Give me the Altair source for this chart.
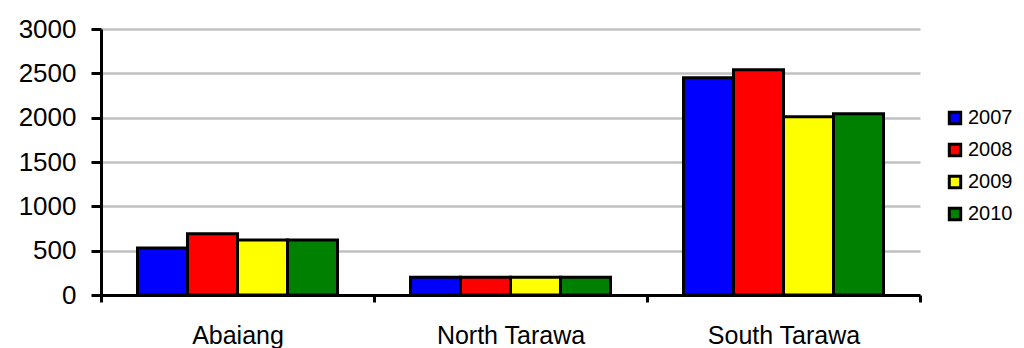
import altair as alt
import pandas as pd

regions = ["Abaiang", "North Tarawa", "South Tarawa"]
years = ["2007", "2008", "2009", "2010"]
v2007 = [530, 200, 2450]
v2008 = [690, 200, 2540]
v2009 = [620, 200, 2010]
v2010 = [620, 200, 2045]
colors = ["#0000FF", "#FF0000", "#FFFF00", "#008000"]
y_ticks = [0, 500, 1000, 1500, 2000, 2500, 3000]

rows = []
for yr, vals in zip(years, [v2007, v2008, v2009, v2010]):
    for r, v in zip(regions, vals):
        rows.append({"region": r, "year": yr, "value": v})
df = pd.DataFrame(rows)

FONT = "Liberation Sans"

chart = alt.Chart(df).mark_bar(stroke="black", strokeWidth=3).encode(
    x=alt.X("region:N", sort=regions,
            scale=alt.Scale(paddingInner=0, paddingOuter=0),
            axis=alt.Axis(title=None, labelAngle=0, tickBand="extent",
                          domainColor="black", domainWidth=3,
                          tickColor="black", tickWidth=3, tickSize=7,
                          labelFontSize=25, labelFont=FONT, labelColor="black",
                          labelPadding=21, grid=False)),
    xOffset=alt.XOffset("year:N", sort=years,
                        scale=alt.Scale(paddingInner=0, paddingOuter=0.73)),
    y=alt.Y("value:Q",
            scale=alt.Scale(domain=[0, 3000], nice=False),
            axis=alt.Axis(title=None, values=y_ticks, format="d", grid=True,
                          gridColor="#c0c0c0", gridWidth=2.5,
                          domainColor="black", domainWidth=3,
                          tickColor="black", tickWidth=3, tickSize=10,
                          labelFontSize=26, labelFont=FONT, labelColor="black",
                          labelPadding=15)),
    color=alt.Color("year:N",
                    scale=alt.Scale(domain=years, range=colors),
                    legend=alt.Legend(title=None, orient="none",
                                      legendX=844, legendY=79,
                                      symbolType="square", symbolSize=130,
                                      symbolStrokeColor="black",
                                      symbolStrokeWidth=3,
                                      labelFontSize=20, labelFont=FONT,
                                      labelColor="black",
                                      rowPadding=8, labelOffset=3)),
).properties(
    width=819, height=266,
    autosize=alt.AutoSizeParams(type="none"),
    padding={"left": 93, "top": 21, "right": 96, "bottom": 53},
).configure_view(stroke=None)

chart.save("out.html", embed_options={"renderer": "svg", "actions": False})
